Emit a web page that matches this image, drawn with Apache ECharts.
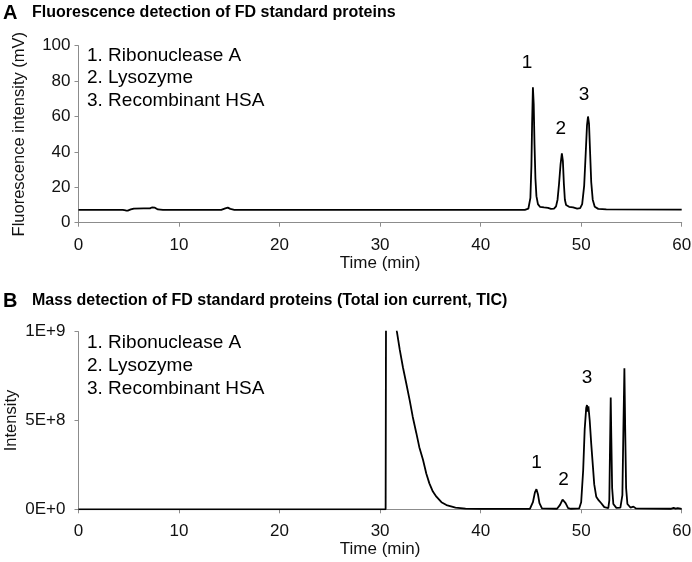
<!DOCTYPE html>
<html>
<head>
    <meta charset="UTF-8">
    <title>FD standard proteins</title>
    <script src="https://cdn.jsdelivr.net/npm/echarts@6.0.0/dist/echarts.min.js"></script>
    <style>
        body { margin: 0; padding: 0; background: #fff; }
        #chart { width: 692px; height: 562px; }
    </style>
</head>
<body>
<div id="chart"></div>
<script>
// ---- data ----
// A: fluorescence trace (min, mV)
const timeA = [
    0, 4.4, 4.7, 4.9, 5.2, 5.5, 6.5, 7.1, 7.3, 7.45, 7.6, 7.9, 8.4, 9,
    14.2, 14.6, 14.85, 15.1, 15.5, 20, 30, 40,
    44.4, 44.75, 44.95, 45.05, 45.12, 45.2, 45.28, 45.36, 45.45, 45.55, 45.7, 45.9,
    46.3, 46.7, 47.0, 47.3,
    47.5, 47.65, 47.8, 47.95, 48.08, 48.18, 48.28, 48.38, 48.5, 48.8, 49.2, 49.6, 49.9,
    50.1, 50.3, 50.45, 50.58, 50.68, 50.78, 50.9, 51.0, 51.15, 51.35, 51.7, 52.5, 60
];
const fluorA = [
    7.2, 7.2, 6.9, 6.8, 7.5, 8.0, 8.1, 8.1, 8.6, 9.4, 8.5, 7.5, 7.2, 7.2,
    7.3, 8.1, 8.5, 7.8, 7.3, 7.2, 7.2, 7.2,
    7.3, 8, 14, 32, 56, 76.5, 67, 44, 25, 15, 10.5, 9,
    8.6, 8.4, 7.8, 7.9,
    9.2, 13, 22, 33, 39.2, 35, 22, 13, 10, 9, 8.6, 7.9, 8.2,
    10.5, 21, 39, 55, 60, 56, 38, 23, 13, 9, 7.8, 7.5, 7.4
];

// B: total ion current (min, intensity)
const timeB = [
    0, 30.55, 30.62, 31.2, 31.67, 31.95, 32.27, 32.6, 32.94, 33.25, 33.6, 33.9,
    34.26, 34.6, 34.9, 35.25, 35.6, 36.1, 36.6, 37.5, 38.5, 40,
    44.9, 45.2, 45.4, 45.55, 45.7, 45.85, 46.1,
    47.6, 47.9, 48.15, 48.25, 48.45, 48.7, 49.0,
    49.8, 50.0, 50.2, 50.35, 50.5, 50.58, 50.64, 50.72, 50.85, 51.0, 51.17, 51.3,
    51.5, 51.75, 52.0, 52.3, 52.7,
    52.8, 52.87, 52.94, 53.0, 53.08, 53.2, 53.5,
    53.9, 54.1, 54.2, 54.3, 54.38, 54.47, 54.6, 54.9, 55.2, 55.3, 55.45,
    58.9, 59.2, 59.4, 59.6, 60
];
const ticB = [
    0, 0, 2.0e9, 1.3e9, 1.0e9, 0.9e9, 0.80e9, 0.71e9, 0.615e9, 0.52e9, 0.43e9, 0.35e9,
    0.28e9, 0.2e9, 0.146e9, 0.1e9, 0.071e9, 0.04e9, 0.024e9, 0.01e9, 0.004e9, 0.002e9,
    0.002e9, 0.04e9, 0.095e9, 0.113e9, 0.085e9, 0.035e9, 0.005e9,
    0.003e9, 0.025e9, 0.055e9, 0.058e9, 0.035e9, 0.007e9, 0.003e9,
    0.005e9, 0.04e9, 0.22e9, 0.45e9, 0.57e9, 0.587e9, 0.55e9, 0.58e9, 0.5e9, 0.37e9, 0.24e9, 0.14e9,
    0.071e9, 0.05e9, 0.034e9, 0.012e9, 0.006e9,
    0.05e9, 0.35e9, 0.63e9, 0.4e9, 0.12e9, 0.03e9, 0.008e9,
    0.01e9, 0.08e9, 0.45e9, 0.794e9, 0.45e9, 0.12e9, 0.03e9, 0.01e9, 0.015e9, 0.02e9, 0.005e9,
    0.003e9, 0.008e9, 0.004e9, 0.007e9, 0.003e9
];

// peak numbers
const peakNames = ['1', '2', '3'];
const peakTimeA = [45.2, 48.08, 50.68];
const peakTopA = [76.5, 39.2, 60];
const peakTimeB = [45.55, 48.25, 50.58];
const peakTopB = [0.113e9, 0.058e9, 0.587e9];

const proteins = ['1. Ribonuclease A', '2. Lysozyme', '3. Recombinant HSA'];
const yTickLabelsB = ['0E+0', '5E+8', '1E+9'];

const FONT = '"Liberation Sans", Arial, sans-serif';
const AXIS_GREY = '#8c8c8c';

function zip(xs, ys) {
    return xs.map((x, i) => [x, ys[i]]);
}

function peakMarks(times, tops, offsets) {
    return times.map((t, i) => ({
        coord: [t, tops[i]],
        value: peakNames[i],
        label: { offset: offsets[i] }
    }));
}

function xAxisCfg(gridIndex) {
    return {
        gridIndex: gridIndex,
        type: 'value',
        min: 0, max: 60, interval: 10,
        name: 'Time (min)',
        nameLocation: 'middle',
        nameGap: 30,
        nameTextStyle: { fontFamily: FONT, fontSize: 17, color: '#111' },
        axisLine: { onZero: false, lineStyle: { color: AXIS_GREY, width: 1 } },
        axisTick: { show: true, length: 4, lineStyle: { color: AXIS_GREY } },
        axisLabel: { margin: 14, fontFamily: FONT, fontSize: 17, color: '#111' },
        splitLine: { show: false }
    };
}

const chart = echarts.init(document.getElementById('chart'));

const texts = [];
function addText(x, y, str, size, bold) {
    texts.push({
        type: 'text', left: x, top: y,
        style: { text: str, fontFamily: FONT, fontSize: size, fontWeight: bold ? 'bold' : 'normal', fill: '#000' }
    });
}
addText(3, 3, 'A', 20, true);
addText(32, 5, 'Fluorescence detection of FD standard proteins', 16, true);
addText(3, 291, 'B', 20, true);
addText(32, 293, 'Mass detection of FD standard proteins (Total ion current, TIC)', 16, true);
proteins.forEach((p, i) => {
    addText(87, 46 + i * 22.5, p, 19, false);
    addText(87, 333 + i * 23.3, p, 19, false);
});

chart.setOption({
    animation: false,
    grid: [
        { left: 78.5, right: 10.3, top: 45.7, height: 177, outerBoundsMode: 'none', containLabel: false },
        { left: 78.5, right: 10.3, top: 331.7, height: 177.6, outerBoundsMode: 'none', containLabel: false }
    ],
    xAxis: [xAxisCfg(0), xAxisCfg(1)],
    yAxis: [
        {
            gridIndex: 0, type: 'value', min: 0, max: 100, interval: 20,
            name: 'Fluorescence intensity (mV)',
            nameLocation: 'middle', nameGap: 51, nameMoveOverlap: false,
            nameTextStyle: { fontFamily: FONT, fontSize: 16.5, color: '#111' },
            axisLine: { show: true, lineStyle: { color: AXIS_GREY, width: 1 } },
            axisTick: { show: true, length: 4, lineStyle: { color: AXIS_GREY } },
            axisLabel: { margin: 8, fontFamily: FONT, fontSize: 17, color: '#111' },
            splitLine: { show: false }
        },
        {
            gridIndex: 1, type: 'value', min: 0, max: 1e9, interval: 5e8,
            name: 'Intensity',
            nameLocation: 'middle', nameGap: 59, nameMoveOverlap: false,
            nameTextStyle: { fontFamily: FONT, fontSize: 16.5, color: '#111' },
            axisLine: { show: true, lineStyle: { color: AXIS_GREY, width: 1 } },
            axisTick: { show: true, length: 4, lineStyle: { color: AXIS_GREY } },
            axisLabel: {
                margin: 13, fontFamily: FONT, fontSize: 17, color: '#111',
                formatter: (v) => yTickLabelsB[Math.round(v / 5e8)]
            },
            splitLine: { show: false }
        }
    ],
    series: [
        {
            type: 'line', xAxisIndex: 0, yAxisIndex: 0,
            data: zip(timeA, fluorA),
            showSymbol: false,
            lineStyle: { color: '#000', width: 1.8 },
            markPoint: {
                symbol: 'circle', symbolSize: 1,
                itemStyle: { color: 'rgba(0,0,0,0)' },
                label: { show: true, position: 'inside', fontFamily: FONT, fontSize: 19, color: '#000', formatter: p => p.value },
                data: peakMarks(peakTimeA, peakTopA, [[-6, -25], [-1, -25], [-4, -22]])
            }
        },
        {
            type: 'line', xAxisIndex: 1, yAxisIndex: 1,
            data: zip(timeB, ticB),
            showSymbol: false,
            clip: true,
            lineStyle: { color: '#000', width: 1.8 },
            markPoint: {
                symbol: 'circle', symbolSize: 1,
                itemStyle: { color: 'rgba(0,0,0,0)' },
                label: { show: true, position: 'inside', fontFamily: FONT, fontSize: 19, color: '#000', formatter: p => p.value },
                data: peakMarks(peakTimeB, peakTopB, [[0, -26], [0, -19], [0, -27]])
            }
        }
    ],
    graphic: texts
});

window.addEventListener('resize', () => chart.resize());
</script>
</body>
</html>
